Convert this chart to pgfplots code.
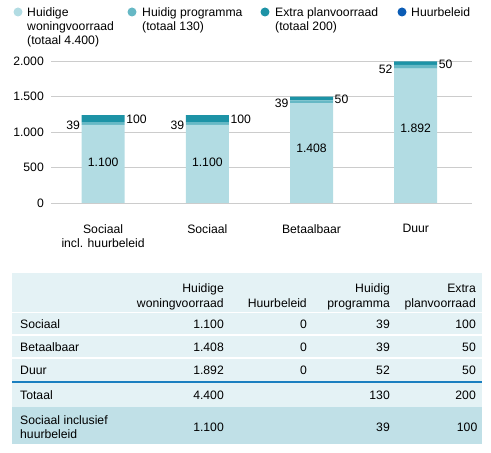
\documentclass[border=0pt]{standalone}
\usepackage{pgfplots}
\pgfplotsset{compat=1.18}
\usepackage{pgfplotstable}
\usepackage{fontspec}
\setmainfont{Liberation Sans}

\definecolor{cWoning}{HTML}{B2DCE3}
\definecolor{cProg}{HTML}{66B8C5}
\definecolor{cExtra}{HTML}{1D93A6}
\definecolor{cHuur}{HTML}{0B5CB5}
\definecolor{rowbg}{HTML}{E4F2F5}
\definecolor{lastbg}{HTML}{C0E0E7}
\definecolor{sepblue}{HTML}{1A7FC0}
\definecolor{gridgray}{HTML}{CCCCCC}

% bars per categorie
\pgfplotstableread{
x woning huur prog extra
0 1100 0 39 100
1 1100 0 39 100
2 1408 0 39 50
3 1892 0 52 50
}\bars

% labels midden in de lichte balk
\pgfplotstableread{
x ypos lbl
0 575 1.100
1 575 1.100
2 775 1.408
3 1055 1.892
}\midlabels

\begin{document}
\fontsize{12.2}{14}\selectfont
\begin{tikzpicture}
\path[use as bounding box] (0,0) rectangle (491pt,453pt);

\begin{axis}[
  at={(51pt,250pt)}, anchor=south west,
  scale only axis, width=421pt, height=142pt,
  ybar stacked, bar width=43pt,
  xmin=-0.5, xmax=3.54, ymin=0, ymax=2000,
  clip=false,
  axis line style={draw=none},
  ymajorgrids, grid style={gridgray, line width=0.9pt},
  ytick={0,500,1000,1500,2000},
  xtick={0,1,2,3},
  xticklabels={{Sociaal\\incl. huurbeleid},Sociaal,Betaalbaar,Duur},
  xticklabel style={align=center, anchor=north, inner sep=0pt, yshift=-21pt},
  yticklabel style={anchor=east, inner sep=0pt, xshift=-7pt},
  major tick length=0pt,
  /pgf/number format/1000 sep={.},
  /pgf/number format/assume math mode=true,
]
\addplot[fill=cWoning, draw=none] table[x=x, y=woning] {\bars};
\addplot[fill=cHuur, draw=none] table[x=x, y=huur] {\bars};
\addplot[fill=cProg, draw=none,
  nodes near coords, point meta=explicit symbolic,
  nodes near coords style={anchor=east, inner sep=1.5pt, xshift=-21.5pt, yshift=-2pt}]
  table[x=x, y=prog, meta=prog] {\bars};
\addplot[fill=cExtra, draw=none,
  nodes near coords, point meta=explicit symbolic,
  nodes near coords style={anchor=west, inner sep=1.5pt, xshift=21.5pt, yshift=-1pt}]
  table[x=x, y=extra, meta=extra] {\bars};
\end{axis}

\begin{axis}[
  at={(51pt,250pt)}, anchor=south west,
  scale only axis, width=421pt, height=142pt,
  xmin=-0.5, xmax=3.54, ymin=0, ymax=2000,
  hide axis, clip=false,
]
\addplot[draw=none, mark=none, nodes near coords, point meta=explicit symbolic,
  nodes near coords style={anchor=center, inner sep=0pt}]
  table[x=x, y=ypos, meta=lbl] {\midlabels};
\end{axis}

\begin{scope}[x=1pt, y=-1pt, yshift=453pt]
% legenda
\fill[cWoning] (18,12) circle (4.5);
\fill[cProg] (132,12) circle (4.5);
\fill[cExtra] (265,12) circle (4.5);
\fill[cHuur] (402,12) circle (4.5);
\node[anchor=base west, inner sep=0pt] at (27,16.4) {Huidige};
\node[anchor=base west, inner sep=0pt] at (27,30.4) {woningvoorraad};
\node[anchor=base west, inner sep=0pt] at (27,44.4) {(totaal 4.400)};
\node[anchor=base west, inner sep=0pt] at (142,16.4) {Huidig programma};
\node[anchor=base west, inner sep=0pt] at (142,30.4) {(totaal 130)};
\node[anchor=base west, inner sep=0pt] at (275,16.4) {Extra planvoorraad};
\node[anchor=base west, inner sep=0pt] at (275,30.4) {(totaal 200)};
\node[anchor=base west, inner sep=0pt] at (411,16.4) {Huurbeleid};

% tabel
\fill[rowbg] (12,273) rectangle (482,407);
\fill[lastbg] (12,407) rectangle (482,444.5);
\draw[white, line width=1.3pt] (12,312.5) -- (482,312.5);
\draw[white, line width=1.3pt] (12,335) -- (482,335);
\draw[white, line width=1.3pt] (12,358) -- (482,358);
\draw[sepblue, line width=1.1pt] (12,382) -- (482,382);

\node[anchor=base east, inner sep=0pt] at (224,292.4) {Huidige};
\node[anchor=base east, inner sep=0pt] at (224,307.4) {woningvoorraad};
\node[anchor=base east, inner sep=0pt] at (307,307.4) {Huurbeleid};
\node[anchor=base east, inner sep=0pt] at (390,292.4) {Huidig};
\node[anchor=base east, inner sep=0pt] at (390,307.4) {programma};
\node[anchor=base east, inner sep=0pt] at (476,292.4) {Extra};
\node[anchor=base east, inner sep=0pt] at (476,307.4) {planvoorraad};

\node[anchor=base west, inner sep=0pt] at (20,328.6) {Sociaal};
\node[anchor=base east, inner sep=0pt] at (224,328.6) {1.100};
\node[anchor=base east, inner sep=0pt] at (307,328.6) {0};
\node[anchor=base east, inner sep=0pt] at (390,328.6) {39};
\node[anchor=base east, inner sep=0pt] at (476,328.6) {100};

\node[anchor=base west, inner sep=0pt] at (20,351.6) {Betaalbaar};
\node[anchor=base east, inner sep=0pt] at (224,351.6) {1.408};
\node[anchor=base east, inner sep=0pt] at (307,351.6) {0};
\node[anchor=base east, inner sep=0pt] at (390,351.6) {39};
\node[anchor=base east, inner sep=0pt] at (476,351.6) {50};

\node[anchor=base west, inner sep=0pt] at (20,374.4) {Duur};
\node[anchor=base east, inner sep=0pt] at (224,374.4) {1.892};
\node[anchor=base east, inner sep=0pt] at (307,374.4) {0};
\node[anchor=base east, inner sep=0pt] at (390,374.4) {52};
\node[anchor=base east, inner sep=0pt] at (476,374.4) {50};

\node[anchor=base west, inner sep=0pt] at (20,399.4) {Totaal};
\node[anchor=base east, inner sep=0pt] at (224,399.4) {4.400};
\node[anchor=base east, inner sep=0pt] at (390,399.4) {130};
\node[anchor=base east, inner sep=0pt] at (476,399.4) {200};

\node[anchor=base west, inner sep=0pt] at (20,424.4) {Sociaal inclusief};
\node[anchor=base west, inner sep=0pt] at (20,438.7) {huurbeleid};
\node[anchor=base east, inner sep=0pt] at (224,431.1) {1.100};
\node[anchor=base east, inner sep=0pt] at (390,431.1) {39};
\node[anchor=base east, inner sep=0pt] at (477.5,431.1) {100};
\end{scope}
\end{tikzpicture}
\end{document}
